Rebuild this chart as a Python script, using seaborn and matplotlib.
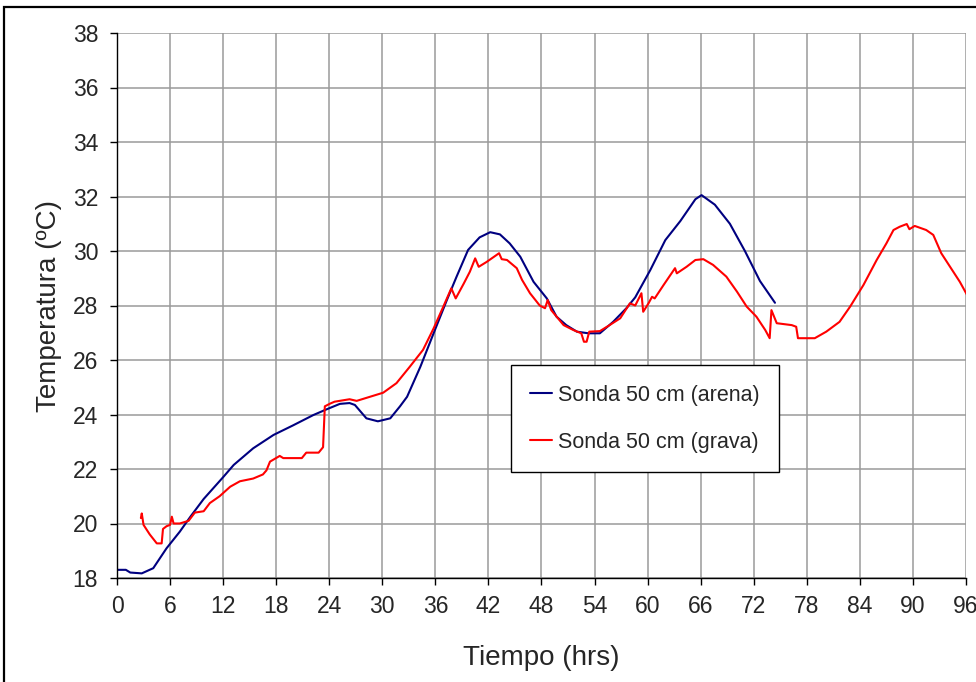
import numpy as np
import pandas as pd
import matplotlib.pyplot as plt
import seaborn as sns
from matplotlib.patches import Rectangle

# Sonda 50 cm (arena)
horas_arena = [0, 1.0, 1.5, 2.8, 4.1, 5.6, 7.1, 8.3, 9.8, 12.0,
               13.2, 15.4, 17.7, 19.9, 22.2, 23.7, 25.2, 26.3, 26.9, 28.2,
               29.5, 30.9, 32.0, 32.8, 34.3, 35.8, 37.3, 38.4, 39.7, 41.0,
               42.2, 43.3, 44.4, 45.6, 47.1, 48.6, 49.7, 50.8, 52.0, 53.3,
               54.6, 56.1, 57.6, 58.6, 60.3, 62.0, 63.7, 65.4, 66.1, 67.6,
               69.3, 71.0, 72.7, 74.4]
temp_arena = [18.3, 18.3, 18.2, 18.17, 18.36, 19.09, 19.7, 20.25, 20.9, 21.7,
              22.15, 22.76, 23.25, 23.6, 23.98, 24.19, 24.39, 24.42, 24.35, 23.86,
              23.75, 23.86, 24.3, 24.65, 25.75, 26.98, 28.2, 29.06, 30.04, 30.5,
              30.69, 30.61, 30.28, 29.79, 28.87, 28.26, 27.59, 27.28, 27.04, 26.98,
              26.98, 27.4, 27.9, 28.3, 29.3, 30.4, 31.1, 31.9, 32.05, 31.7,
              31.0, 30.0, 28.9, 28.1]

# Sonda 50 cm (grava)
horas_grava = [2.7, 2.8, 3.0, 3.7, 4.5, 5.05, 5.2, 5.6, 6.0, 6.2,
               6.4, 7.1, 8.1, 8.8, 9.8, 10.5, 11.6, 12.8, 13.9, 15.4,
               16.5, 16.9, 17.3, 18.4, 18.8, 20.9, 21.4, 22.8, 23.3, 23.5,
               24.1, 24.6, 26.3, 27.1, 28.6, 30.1, 31.6, 33.1, 34.6, 35.8,
               36.9, 37.8, 38.3, 39.2, 39.9, 40.5, 40.9, 41.8, 42.9, 43.2,
               43.5, 44.1, 45.2, 45.8, 46.7, 47.8, 48.4, 48.7, 49.1, 50.5,
               51.6, 52.5, 52.8, 53.1, 53.4, 54.6, 55.7, 56.9, 58.0, 58.6,
               59.3, 59.5, 60.1, 60.5, 60.8, 61.8, 63.1, 63.3, 64.4, 65.4,
               66.3, 67.4, 68.9, 70.1, 71.2, 72.3, 73.3, 73.8, 74.0, 74.6,
               76.3, 76.8, 77.0, 78.9, 80.2, 81.7, 82.9, 84.4, 85.9, 87.0,
               87.8, 88.5, 89.3, 89.6, 90.2, 91.5, 92.3, 93.2, 94.2, 95.3,
               96.1]
temp_grava = [20.2, 20.37, 19.95, 19.6, 19.27, 19.27, 19.8, 19.9, 19.95, 20.25,
              20.0, 20.0, 20.1, 20.4, 20.45, 20.75, 21.0, 21.35, 21.55, 21.65,
              21.8, 21.95, 22.27, 22.48, 22.4, 22.4, 22.6, 22.6, 22.8, 24.3,
              24.4, 24.47, 24.56, 24.5, 24.65, 24.8, 25.15, 25.75, 26.37, 27.16,
              27.96, 28.63, 28.26, 28.8, 29.24, 29.73, 29.42, 29.6, 29.85, 29.92,
              29.7, 29.67, 29.37, 28.94, 28.45, 28.0, 27.9, 28.2, 27.83, 27.28,
              27.1, 26.98, 26.67, 26.67, 27.04, 27.06, 27.28, 27.53, 28.08, 28.0,
              28.45, 27.77, 28.08, 28.32, 28.26, 28.75, 29.37, 29.18, 29.42, 29.67,
              29.7, 29.49, 29.06, 28.51, 27.96, 27.59, 27.1, 26.8, 27.83, 27.35,
              27.28, 27.22, 26.8, 26.8, 27.04, 27.4, 27.96, 28.75, 29.67, 30.28,
              30.77, 30.89, 30.99, 30.8, 30.92, 30.77, 30.59, 29.92, 29.42, 28.87,
              28.4]

series = ['Sonda 50 cm (arena)', 'Sonda 50 cm (grava)']
x_ticks = list(range(0, 97, 6))
y_ticks = list(range(18, 39, 2))

data = pd.concat([
    pd.DataFrame({'hora': horas_arena, 'temp': temp_arena, 'serie': series[0]}),
    pd.DataFrame({'hora': horas_grava, 'temp': temp_grava, 'serie': series[1]}),
])

sns.set_style('white')
plt.rcParams['font.family'] = ['Liberation Sans', 'DejaVu Sans']

fig = plt.figure(figsize=(9.76, 6.82), dpi=100)
ax = fig.add_axes([117 / 976, 1 - 578 / 682, 849 / 976, 545 / 682])

sns.lineplot(data=data, x='hora', y='temp', hue='serie', hue_order=series,
             palette={series[0]: '#000080', series[1]: '#ff0000'},
             estimator=None, sort=False, linewidth=1.5, ax=ax)

ax.set_xlim(0, 96)
ax.set_ylim(18, 38)
ax.set_xticks(x_ticks)
ax.set_yticks(y_ticks)
ax.grid(True, color='#9a9a9a', linewidth=1.1)
ax.set_axisbelow(True)
for s in ['top', 'right']:
    ax.spines[s].set_visible(False)
for s in ['left', 'bottom']:
    ax.spines[s].set_color('black')
    ax.spines[s].set_linewidth(1.0)
ax.tick_params(axis='both', direction='out', length=5, width=1, color='black',
               labelsize=16.5, bottom=True, left=True)
ax.tick_params(axis='x', pad=7)
ax.tick_params(axis='y', pad=8.5)

ax.set_xlabel('Tiempo (hrs)', fontsize=20, labelpad=20)
ax.set_ylabel('Temperatura (ºC)', fontsize=20, labelpad=8)

leg = ax.legend(loc='lower left', bbox_to_anchor=(0.464, 0.1945), fontsize=15.5,
                frameon=True, fancybox=False, framealpha=1, edgecolor='black',
                handlelength=1.0, handletextpad=0.3, labelspacing=1.2,
                borderpad=0.9, borderaxespad=0)
leg.get_frame().set_linewidth(1.0)

# outer chart border
fig.patches.append(Rectangle((4 / 976, -0.1), 2, 1 - 7 / 682 + 0.1,
                             transform=fig.transFigure, fill=False,
                             edgecolor='black', linewidth=1.6))

fig.savefig('out.png', dpi=100)
